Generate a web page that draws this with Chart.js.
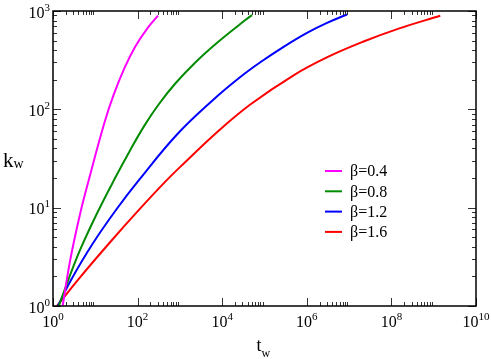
<!DOCTYPE html>
<html>
<head>
<meta charset="utf-8">
<script src="https://cdn.jsdelivr.net/npm/chart.js@4.4.0/dist/chart.umd.min.js"></script>
<style>
  html, body { margin: 0; padding: 0; background: #fff; }
  #wrap { width: 491px; height: 359px; }
</style>
</head>
<body>
<div id="wrap"><canvas id="chart" width="491" height="359"></canvas></div>
<script>
// values (t_w, k_w) for each beta
const seriesLabels = ['β=0.4', 'β=0.8', 'β=1.2', 'β=1.6'];
const seriesColors = ['#ff00ff', '#008b00', '#0000ff', '#ff0000'];

const tBeta04 = [1.69, 2.56, 4.42, 7.01, 16.3, 27.1, 48.5, 88.3, 167, 303];
const kBeta04 = [1.0, 2.95, 8.83, 19.1, 72.1, 140, 261, 436, 659, 896];

const tBeta08 = [1.37, 2.34, 4.42, 11.0, 28.1, 67.2, 146, 314, 778, 2312, 8222, 35160, 50630];
const kBeta08 = [1.0, 1.88, 3.76, 8.77, 19.3, 38.6, 68.7, 112, 183, 300, 490, 809, 909];

const tBeta12 = [1.30, 2.67, 8.36, 31.4, 112, 854, 6262, 26790, 79620, 2.83e5, 1.01e6, 3.01e6, 8.91e6];
const kBeta12 = [1.0, 1.84, 4.20, 9.58, 19.5, 55.5, 126, 213, 301, 432, 599, 757, 921];

const tBeta16 = [1.24, 4.03, 21.8, 106, 452, 1250, 7536, 46160, 4.87e5, 3.15e6, 2.2e7, 1.48e8, 1.43e9];
const kBeta16 = [1.0, 1.88, 4.40, 9.43, 18.4, 28.3, 58.6, 112, 222, 341, 489, 662, 896];

// axis ticks (major ones carry labels 10^n)
const xMajorTicks = [1, 1e2, 1e4, 1e6, 1e8, 1e10];
const xTickExponents = ['0', '2', '4', '6', '8', '10'];
const yMajorTicks = [1, 10, 100, 1000];
const yTickExponents = ['0', '1', '2', '3'];

const tSeries = [tBeta04, tBeta08, tBeta12, tBeta16];
const kSeries = [kBeta04, kBeta08, kBeta12, kBeta16];

const SERIF = '"Liberation Serif", "Times New Roman", serif';

function toPoints(ts, ks) {
  return ts.map((t, i) => ({ x: t, y: ks[i] }));
}

// minor ticks: 2..9 times each major (xmgrace style)
function minorTicks(majors) {
  const out = [];
  majors.slice(0, -1).forEach(m => {
    for (let j = 2; j <= 9; j++) out.push(m * j);
  });
  return out;
}
const xMinorTicks = minorTicks(xMajorTicks);
const yMinorTicks = minorTicks(yMajorTicks);

function drawPower(ctx, exp, x, y, align) {
  ctx.font = '16px ' + SERIF;
  const wb = ctx.measureText('10').width;
  ctx.font = '11px ' + SERIF;
  const ws = ctx.measureText(exp).width;
  const x0 = align === 'center' ? x - (wb + ws) / 2 : x - wb - ws;
  ctx.font = '16px ' + SERIF;
  ctx.fillText('10', x0, y);
  ctx.font = '11px ' + SERIF;
  ctx.fillText(exp, x0 + wb, y - 7);
}

function drawSub(ctx, base, sub, x, y, size, subSize, drop) {
  ctx.font = size + 'px ' + SERIF;
  ctx.fillText(base, x, y);
  const w = ctx.measureText(base).width;
  ctx.font = subSize + 'px ' + SERIF;
  ctx.fillText(sub, x + w, y + drop);
}

const framePlugin = {
  id: 'framePlugin',
  afterDraw(chart) {
    const ctx = chart.ctx;
    const { left, right, top, bottom } = chart.chartArea;
    const xs = chart.scales.x, ys = chart.scales.y;
    ctx.save();

    // inward tick marks on all four sides
    ctx.strokeStyle = '#333';
    ctx.lineWidth = 1;
    ctx.beginPath();
    const xTick = (v, len) => {
      const px = Math.round(xs.getPixelForValue(v)) + 0.5;
      ctx.moveTo(px, bottom); ctx.lineTo(px, bottom - len);
      ctx.moveTo(px, top); ctx.lineTo(px, top + len);
    };
    const yTick = (v, len) => {
      const py = Math.round(ys.getPixelForValue(v)) + 0.5;
      ctx.moveTo(left, py); ctx.lineTo(left + len, py);
      ctx.moveTo(right, py); ctx.lineTo(right - len, py);
    };
    xMajorTicks.forEach(v => xTick(v, 8));
    xMinorTicks.forEach(v => xTick(v, 4));
    yMajorTicks.forEach(v => yTick(v, 8));
    yMinorTicks.forEach(v => yTick(v, 4));
    ctx.stroke();

    // frame
    ctx.strokeStyle = '#000';
    ctx.lineWidth = 1.5;
    ctx.strokeRect(left, top, right - left, bottom - top);

    // tick labels
    ctx.fillStyle = '#000';
    ctx.textAlign = 'left';
    ctx.textBaseline = 'alphabetic';
    xMajorTicks.forEach((v, i) => drawPower(ctx, xTickExponents[i], xs.getPixelForValue(v), bottom + 21, 'center'));
    yMajorTicks.forEach((v, i) => drawPower(ctx, yTickExponents[i], left - 3, ys.getPixelForValue(v) + 6.5, 'right'));

    // axis titles
    drawSub(ctx, 'k', 'w', 3, 166.5, 21, 14, 1);
    drawSub(ctx, 't', 'w', 256.5, 350.5, 18, 12, 6);

    // legend
    ctx.font = '16px ' + SERIF;
    ctx.textBaseline = 'middle';
    chart.data.datasets.forEach((ds, i) => {
      const ly = 171 + i * 20.3;
      ctx.strokeStyle = ds.borderColor;
      ctx.lineWidth = 2;
      ctx.beginPath();
      ctx.moveTo(325, ly); ctx.lineTo(342, ly);
      ctx.stroke();
      ctx.fillStyle = '#000';
      ctx.fillText(ds.label, 350, ly + 1);
    });
    ctx.restore();
  }
};

new Chart(document.getElementById('chart'), {
  type: 'line',
  data: {
    datasets: seriesLabels.map((label, i) => ({
      label: label,
      data: toPoints(tSeries[i], kSeries[i]),
      borderColor: seriesColors[i],
      backgroundColor: seriesColors[i],
      borderWidth: 2,
      pointRadius: 0,
      fill: false,
      tension: 0.4
    }))
  },
  options: {
    responsive: false,
    animation: false,
    layout: { padding: { left: 53, right: 15, top: 11, bottom: 53 } },
    plugins: {
      legend: { display: false },
      tooltip: { enabled: false }
    },
    scales: {
      x: { type: 'logarithmic', min: 1, max: 1e10, display: false },
      y: { type: 'logarithmic', min: 1, max: 1000, display: false }
    }
  },
  plugins: [framePlugin]
});
</script>
</body>
</html>
